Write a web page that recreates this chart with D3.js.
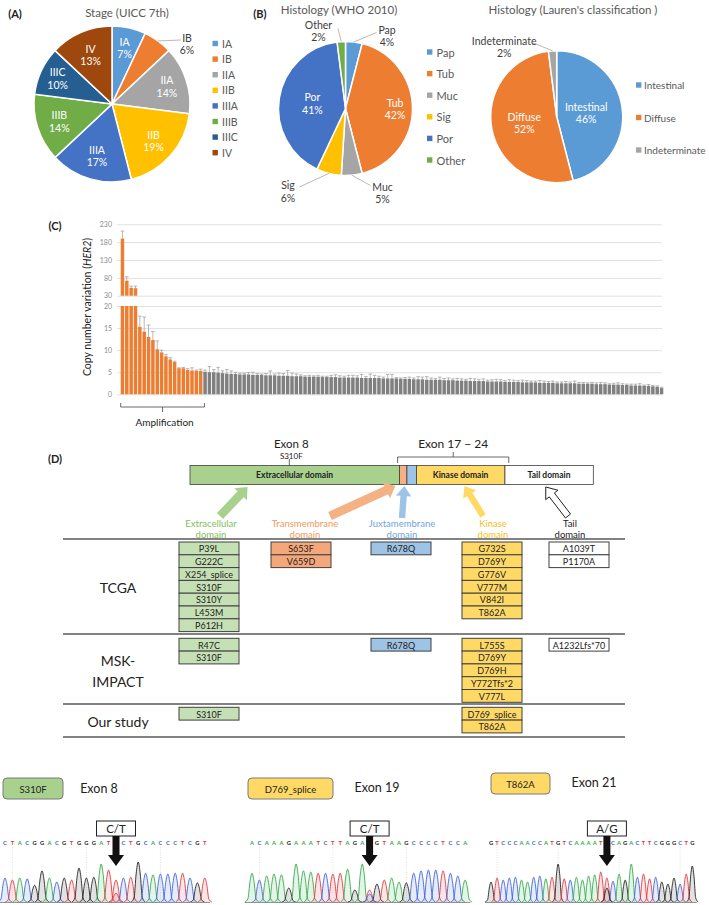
<!DOCTYPE html>
<html><head><meta charset="utf-8">
<script src="https://cdn.jsdelivr.net/npm/d3@7"></script>
<style>
body{margin:0;background:#fff}
svg{display:block}
text{font-family:Lato,"Open Sans","Noto Sans",sans-serif}
</style></head>
<body><svg id="c" width="709" height="905"></svg>
<script>
// ---------------- DATA ----------------
const stageLabels = ["IA","IB","IIA","IIB","IIIA","IIIB","IIIC","IV"];
const stageValues = [7,6,14,19,17,14,10,13];
const whoLabels = ["Pap","Tub","Muc","Sig","Por","Other"];
const whoValues = [4,42,5,6,41,2];
const laurenLabels = ["Intestinal","Diffuse","Indeterminate"];
const laurenValues = [46,52,2];

const cnvAmpValues = [190,72,52,51,15.3,14.2,13.0,12.3,10.2,9.5,8.6,7.9,7.3,5.9,5.9,5.5,5.4,5.3,5.3];
const cnvAmpErrors = [21,11,5,6,2.4,3.3,2.7,1.9,1.9,0.5,0.4,0.4,0.2,0.1,0.2,0.3,0.6,0.2,0.4];
const cnvOtherValues = [5.1,5.0,5.0,4.9,4.8,4.7,4.6,4.6,4.5,4.5,
  4.5,4.4,4.4,4.4,4.3,4.3,4.3,4.2,4.2,4.2,
  4.1,4.1,4.1,4.0,4.0,4.0,4.0,3.9,3.9,3.9,
  3.9,3.8,3.8,3.8,3.8,3.8,3.7,3.7,3.7,3.7,
  3.7,3.6,3.6,3.6,3.6,3.5,3.5,3.5,3.4,3.4,
  3.4,3.3,3.3,3.3,3.3,3.2,3.2,3.2,3.1,3.1,
  3.1,3.0,3.0,3.0,3.0,2.9,2.9,2.9,2.9,2.8,
  2.8,2.8,2.8,2.7,2.7,2.7,2.7,2.6,2.6,2.6,
  2.6,2.5,2.5,2.5,2.5,2.5,2.4,2.4,2.4,2.4,
  2.3,2.3,2.3,2.2,2.2,2.2,2.1,2.1,2.0,2.0,
  2.0,1.9,1.9,1.8,1.7,1.4];
const cnvOtherErrors = [0.4,1.3,0.6,1.2,0.5,0.9,0.7,0.4,0.3,0.3,
  0.4,0.6,0.3,0.2,0.4,1.0,0.3,0.6,0.5,1.2,
  0.7,0.5,0.3,0.2,0.3,0.2,0.3,0.2,0.2,0.4,
  0.5,0.4,0.3,0.5,0.5,0.4,0.8,0.3,0.9,0.6,
  0.4,0.3,0.9,0.9,0.2,0.2,0.3,0.4,0.3,0.6,
  0.5,0.7,0.4,0.3,0.6,0.4,0.5,0.3,0.5,0.4,
  0.3,0.6,0.5,0.4,0.5,0.3,0.4,0.5,0.4,0.3,
  0.5,0.4,0.3,0.5,0.4,0.3,0.3,0.5,0.4,0.3,
  0.4,0.3,0.3,0.4,0.3,0.5,0.3,0.3,0.2,0.3,
  0.3,0.4,0.3,0.2,0.3,0.4,0.3,0.2,0.3,0.3,
  0.4,0.2,0.3,0.2,0.2,0.2];
const cnvTopTicks = [30,80,130,180,230];
const cnvBottomTicks = [0,5,10,15,20];

const domainNames = ["Extracellular domain","","","Kinase domain","Tail domain"];
const domainArrowLabels = [["Extracellular","domain"],["Transmembrane","domain"],["Juxtamembrane","domain"],["Kinase","domain"],["Tail","domain"]];
const domainStart = [1,653,676,706,981];
const domainEnd = [652,675,705,980,1255];

const studyNames = ["TCGA","MSK-\nIMPACT","Our study"];
const tcgaMutations = [["P39L","G222C","X254_splice","S310F","S310Y","L453M","P612H"],["S653F","V659D"],["R678Q"],["G732S","D769Y","G776V","V777M","V842I","T862A"],["A1039T","P1170A"]];
const mskMutations = [["R47C","S310F"],[],["R678Q"],["L755S","D769Y","D769H","Y772Tfs*2","V777L"],["A1232Lfs*70"]];
const ourMutations = [["S310F"],[],[],["D769_splice","T862A"],[]];

const sangerMutations = ["S310F","D769_splice","T862A"];
const sangerExons = ["Exon 8","Exon 19","Exon 21"];
const sangerCalls = ["C/T","C/T","A/G"];
const seq1 = "CTACGGACGTGGGATTCTGCACCCTCGT";
const peaks1 = [0.6,0.55,0.6,0.58,0.42,0.78,0.6,0.5,0.6,0.55,0.85,0.6,0.62,0.95,0.8,0.55,0.6,0.62,1.0,0.72,0.68,0.7,0.7,0.72,0.72,0.6,0.48,0.6];
const seq2 = "ACAAAGAAATCTTAGATGTAAGCCCCTCCA";
const peaks2 = [0.72,0.55,0.65,0.7,0.68,0.35,0.95,0.78,0.75,0.72,0.72,0.7,0.72,0.82,0.3,0.95,0.3,0.45,0.55,0.6,0.5,0.48,0.72,0.78,0.8,0.8,0.78,0.72,0.65,0.55];
const seq3 = "GTCCCAACCATGTCAAAATTCAGACTTCGGGCTG";
const peaks3 = [0.5,0.6,0.55,0.6,0.62,0.55,0.5,0.62,0.65,0.58,0.62,0.95,0.58,0.55,0.62,0.55,0.65,0.68,0.75,0.6,0.52,0.7,0.55,0.95,0.62,0.7,0.58,0.62,0.5,0.45,0.6,0.45,0.7,0.9];

// ---------------- DRAW ----------------
const svg = d3.select("#c");
const TXT = "#595959";

function label(x,y,s,o={}){
  return svg.append("text").attr("x",x).attr("y",y).text(s)
    .attr("font-size",o.size||11).attr("fill",o.fill||"#222")
    .attr("text-anchor",o.anchor||"middle").attr("dominant-baseline","central")
    .attr("font-weight",o.weight||"normal")
    .attr("font-family",o.family||null);
}

// panel letters
label(15,13,"(A)",{weight:"bold",family:"Arial, Liberation Sans, sans-serif",size:11});
label(260,13,"(B)",{weight:"bold",family:"Arial, Liberation Sans, sans-serif",size:11});
label(55,225,"(C)",{weight:"bold",family:"Arial, Liberation Sans, sans-serif",size:11});
label(55,458,"(D)",{weight:"bold",family:"Arial, Liberation Sans, sans-serif",size:11});

// pies
function drawPie(cfg){
  label(cfg.tx,cfg.ty,cfg.title,{fill:TXT,size:11.5});
  const g = svg.append("g").attr("transform",`translate(${cfg.cx},${cfg.cy})`);
  const data = cfg.labels.map((l,i)=>({l,v:cfg.values[i],c:cfg.colors[i]}));
  const arcs = d3.pie().sort(null).value(d=>d.v)(data);
  const arc = d3.arc().innerRadius(0).outerRadius(cfg.r);
  g.selectAll("path").data(arcs).join("path").attr("d",arc)
    .attr("fill",d=>d.data.c).attr("stroke","#fff").attr("stroke-width",1.5);
  arcs.forEach((a,i)=>{
    const lp = cfg.lab[i];
    const mid=(a.startAngle+a.endAngle)/2;
    let x,y,col="#fff";
    if(lp.out){
      x=lp.out[0]; y=lp.out[1]; col="#404040";
      const ex=Math.sin(mid)*cfg.r, ey=-Math.cos(mid)*cfg.r;
      g.append("line").attr("x1",ex).attr("y1",ey).attr("x2",lp.lead[0]).attr("y2",lp.lead[1])
        .attr("stroke","#a6a6a6").attr("stroke-width",0.8);
    } else {
      x=Math.sin(mid)*lp.k*cfg.r; y=-Math.cos(mid)*lp.k*cfg.r;
    }
    const t=g.append("text").attr("text-anchor","middle").attr("font-size",cfg.fs).attr("fill",col);
    t.append("tspan").attr("x",x).attr("y",y-6).attr("dominant-baseline","central").text(a.data.l);
    t.append("tspan").attr("x",x).attr("y",y+6.5).attr("dominant-baseline","central").text(a.data.v+"%");
  });
  const lg = svg.append("g");
  cfg.labels.forEach((l,i)=>{
    const yy = cfg.ly0 + i*cfg.lstep;
    lg.append("rect").attr("x",cfg.lx).attr("y",yy-2.7).attr("width",5.4).attr("height",5.4).attr("fill",cfg.colors[i]);
    lg.append("text").attr("x",cfg.lx+cfg.lgap).attr("y",yy).attr("dominant-baseline","central")
      .attr("font-size",cfg.lfs).attr("fill",TXT).text(l);
  });
}
const office = ["#5B9BD5","#ED7D31","#A5A5A5","#FFC000","#4472C4","#70AD47","#255E91","#9E480E"];
drawPie({title:"Stage (UICC 7th)",tx:127,ty:12,cx:112,cy:104,r:78,labels:stageLabels,values:stageValues,colors:office,fs:10.5,
  lab:[{k:0.74},{out:[75,-60.5],lead:[69,-64]},{k:0.74},{k:0.71},{k:0.69},{k:0.71},{k:0.77},{k:0.69}],
  lx:212.5,ly0:43.5,lstep:15.6,lfs:10.5,lgap:9.5});
drawPie({title:"Histology (WHO 2010)",tx:339,ty:9,cx:345.5,cy:108.5,r:67,labels:whoLabels,values:whoValues,colors:office.slice(0,6),fs:10.5,
  lab:[{out:[41.5,-73],lead:[31,-76]},{k:0.74},{out:[37,84],lead:[25,77]},{out:[-57.5,82.5],lead:[-46,78.5]},{k:0.5},{out:[-27,-78],lead:[-7.5,-80]}],
  lx:427,ly0:52,lstep:21.6,lfs:11,lgap:9.5});
drawPie({title:"Histology (Lauren's classification )",tx:573,ty:9,cx:556.7,cy:116.7,r:66,labels:laurenLabels,values:laurenValues,colors:["#5B9BD5","#ED7D31","#A5A5A5"],fs:10.5,
  lab:[{k:0.45},{k:0.5},{out:[-52.5,-70],lead:[-24,-74]}],
  lx:636,ly0:85,lstep:32.5,lfs:10,lgap:8});

// ---------------- Panel C bar chart ----------------
const cnvValues = cnvAmpValues.concat(cnvOtherValues);
const cnvErrors = cnvAmpErrors.concat(cnvOtherErrors);
const nAmp = cnvAmpValues.length;
const xB = d3.scaleBand().domain(d3.range(cnvValues.length)).range([120.5,663.5]).paddingInner(0.2).paddingOuter(0.05);
const yBot = d3.scaleLinear().domain([0,20]).range([394.3,306]);
const yTop = d3.scaleLinear().domain([30,230]).range([295.7,224.3]);
const gridW = 662-117;
function styleAxis(g){
  g.select(".domain").remove();
  g.selectAll(".tick line").attr("stroke","#d9d9d9").attr("stroke-width",0.8);
  g.selectAll(".tick text").attr("fill","#8c8c8c").attr("font-size",7).attr("font-family","Lato, sans-serif");
}
svg.append("g").attr("transform","translate(117,0)")
  .call(d3.axisLeft(yBot).tickValues(cnvBottomTicks).tickSize(-gridW).tickPadding(5)).call(styleAxis);
svg.append("g").attr("transform","translate(117,0)")
  .call(d3.axisLeft(yTop).tickValues(cnvTopTicks).tickSize(-gridW).tickPadding(5)).call(styleAxis);

const bars = svg.append("g");
cnvValues.forEach((v,i)=>{
  const col = i<nAmp ? "#ED7D31" : "#808080";
  const x = xB(i), w = xB.bandwidth();
  const vb = Math.min(v,20);
  bars.append("rect").attr("x",x).attr("y",yBot(vb)).attr("width",w).attr("height",yBot(0)-yBot(vb)).attr("fill",col);
  const e = cnvErrors[i];
  const cx = x+w/2;
  let y1,y2;
  if(v>20){
    bars.append("rect").attr("x",x).attr("y",yTop(v)).attr("width",w).attr("height",yTop(30)-yTop(v)).attr("fill",col);
    y1=yTop(v); y2=yTop(v+e);
  } else { y1=yBot(v); y2=yBot(Math.min(v+e,20)); }
  bars.append("line").attr("x1",cx).attr("x2",cx).attr("y1",y1).attr("y2",y2).attr("stroke","#9a9a9a").attr("stroke-width",0.7);
  bars.append("line").attr("x1",cx-1.8).attr("x2",cx+1.8).attr("y1",y2).attr("y2",y2).attr("stroke","#9a9a9a").attr("stroke-width",0.7);
});
// y label
const yl = svg.append("text").attr("transform","translate(87,307) rotate(-90)").attr("text-anchor","middle")
  .attr("dominant-baseline","central").attr("font-size",10.5).attr("fill","#222");
yl.append("tspan").text("Copy number variation (");
yl.append("tspan").attr("font-style","italic").text("HER2");
yl.append("tspan").text(")");
// amplification bracket
const bx0 = xB(0), bx1 = xB(nAmp-1)+xB.bandwidth()+2;
svg.append("path").attr("d",`M${bx0},403 V407 H${bx1} V403 M${(bx0+bx1)/2},407 V412`)
  .attr("fill","none").attr("stroke","#595959").attr("stroke-width",0.9);
label((bx0+bx1)/2+2,422,"Amplification",{size:10});

// ---------------- Panel D domain diagram ----------------
const aa = d3.scaleLinear().domain([1,1255]).range([190,593]);
const domFill = ["#a9d18e","#f4b183","#9dc3e6","#ffd966","#ffffff"];
const domText = ["#7fbe5c","#f29a5e","#6fa6dc","#f2bf2a","#222"];
domainStart.forEach((s,i)=>{
  svg.append("rect").attr("x",aa(s)).attr("y",465.5).attr("width",aa(domainEnd[i]+1)-aa(s)).attr("height",19)
    .attr("fill",domFill[i]).attr("stroke","#404040").attr("stroke-width",0.8);
  if(domainNames[i]) label((aa(s)+aa(domainEnd[i]))/2,475,domainNames[i],{size:8.5,weight:"bold"});
});
label(aa(310)+2,443,"Exon 8",{size:11.5});
label(aa(310)+2,456,"S310F",{size:8});
svg.append("line").attr("x1",aa(310)).attr("x2",aa(310)).attr("y1",459).attr("y2",465.5).attr("stroke","#404040").attr("stroke-width",0.8);
const e0 = aa(647), e1 = aa(993);
label((e0+e1)/2,443,"Exon 17 − 24",{size:12});
svg.append("path").attr("d",`M${e0},463 V457 H${e1} V463 M${(e0+e1)/2},457 V452`).attr("fill","none").attr("stroke","#595959").attr("stroke-width",0.9);

// column centers for the table
const colX = [209,301,401,492,579];
const colW = 60;
// fat arrows
function fatArrow(tx,ty,px,py,w,hw,hl,fill,stroke){
  const dx=px-tx, dy=py-ty, L=Math.hypot(dx,dy), ux=dx/L, uy=dy/L, nx=-uy, ny=ux;
  const bxp=px-ux*hl, byp=py-uy*hl;
  const pts=[[tx+nx*w,ty+ny*w],[bxp+nx*w,byp+ny*w],[bxp+nx*hw,byp+ny*hw],[px,py],[bxp-nx*hw,byp-ny*hw],[bxp-nx*w,byp-ny*w],[tx-nx*w,ty-ny*w]];
  svg.append("path").attr("d",d3.line()(pts)+"Z").attr("fill",fill).attr("stroke",stroke||"none").attr("stroke-width",1);
}
const arrowTips = [[aa(180),487],[aa(640),486],[aa(668),486],[aa(855),486],[aa(1108),487]];
const arrowTails = [[220,516],[330,516],[402,518],[483,516],[568,516]];
const arrowW = [4.2,4.4,3.2,3.2,3.2];
domFill.forEach((f,i)=>{
  fatArrow(arrowTails[i][0],arrowTails[i][1],arrowTips[i][0],arrowTips[i][1],arrowW[i],arrowW[i]+4.5,10,f,i===4?"#222":null);
});
const labX = [211,305,402,493,570];
domainArrowLabels.forEach((ls,i)=>{
  label(labX[i],523.5,ls[0],{size:9.5,fill:domText[i]});
  label(labX[i],534,ls[1],{size:9.5,fill:domText[i]});
});

// table
const lineYs = [539,634,704,737];
lineYs.forEach(y=>svg.append("line").attr("x1",63).attr("x2",625).attr("y1",y).attr("y2",y).attr("stroke","#595959").attr("stroke-width",1.3));
const boxFill = ["#c5e0b4","#f4a77a","#9dc3e6","#ffd966","#ffffff"];
const rowStart = [542,638.3,707.3];
const rowH = 12.8;
[tcgaMutations,mskMutations,ourMutations].forEach((rows,r)=>{
  rows.forEach((muts,c)=>{
    muts.forEach((m,k)=>{
      const y = rowStart[r]+k*rowH;
      svg.append("rect").attr("x",colX[c]-colW/2).attr("y",y).attr("width",colW).attr("height",rowH)
        .attr("fill",boxFill[c]).attr("stroke","#404040").attr("stroke-width",1);
      label(colX[c],y+rowH/2+0.3,m,{size:9,fill:"#222"});
    });
  });
});
label(118,587,"TCGA",{size:14});
label(118,660,"MSK-",{size:14});
label(118,681,"IMPACT",{size:14});
label(118,721,"Our study",{size:14});

// ---------------- Sanger chromatograms ----------------
const baseColor = {A:"#35a94a",C:"#3d63d6",G:"#222222",T:"#e0393e"};
const tagFill = ["#a9d18e","#ffd966","#ffd966"];
const tagBox = [[3,778,60,21],[248,778,85,21],[491,773,59,21]];
const exonPos = [[99,788],[377,787],[594,782]];
const traces = [
  {seq:seq1,pk:peaks1,x0:5,p:7.4,idx:15,minor:"T",mh:0.22},
  {seq:seq2,pk:peaks2,x0:252,p:7.35,idx:16,minor:"C",mh:0.2},
  {seq:seq3,pk:peaks3,x0:491,p:6.1,idx:19,minor:"G",mh:0.35}
];
const base = 902, maxH = 40, letY = 842;
traces.forEach((t,j)=>{
  const b = tagBox[j];
  svg.append("rect").attr("x",b[0]).attr("y",b[1]).attr("width",b[2]).attr("height",b[3]).attr("rx",4)
    .attr("fill",tagFill[j]).attr("stroke","#7a7a7a").attr("stroke-width",1);
  label(b[0]+b[2]/2,b[1]+b[3]/2+0.5,sangerMutations[j],{size:9.5,fill:"#222"});
  label(exonPos[j][0],exonPos[j][1],sangerExons[j],{size:12.5,fill:"#222"});
  const g = svg.append("g");
  t.seq.split("").forEach((ch,i)=>{
    if(i%10===1){
      const x=t.x0+i*t.p;
      g.append("line").attr("x1",x).attr("x2",x).attr("y1",letY+5).attr("y2",base).attr("stroke","#c8c8c8").attr("stroke-width",0.6).attr("stroke-dasharray","1,1.5");
    }
  });
  const ln = d3.line().curve(d3.curveMonotoneX);
  const drawPeak=(xc,h,col)=>{
    const H=h*maxH, p=t.p;
    const pts=[[xc-0.95*p,base],[xc-0.55*p,base-0.12*H],[xc-0.28*p,base-0.7*H],[xc,base-H],[xc+0.28*p,base-0.7*H],[xc+0.55*p,base-0.12*H],[xc+0.95*p,base]];
    g.append("path").attr("d",ln(pts)).attr("fill",col).attr("fill-opacity",0.13).attr("stroke",col).attr("stroke-width",0.9);
  };
  t.seq.split("").forEach((ch,i)=>{
    const xc=t.x0+i*t.p;
    drawPeak(xc,t.pk[i],baseColor[ch]);
    g.append("text").attr("x",xc).attr("y",letY).attr("text-anchor","middle").attr("dominant-baseline","central")
      .attr("font-size",5.8).attr("font-weight","bold").attr("fill",baseColor[ch]).text(ch);
  });
  drawPeak(t.x0+t.idx*t.p,t.mh,baseColor[t.minor]);
  g.append("line").attr("x1",t.x0-t.p).attr("x2",t.x0+(t.seq.length-0.3)*t.p).attr("y1",base+0.5).attr("y2",base+0.5).attr("stroke","#777").attr("stroke-width",0.8);
  const ax = t.x0+t.idx*t.p;
  svg.append("rect").attr("x",ax-19.5).attr("y",821).attr("width",39).attr("height",15).attr("fill","#fff").attr("stroke","#222").attr("stroke-width",1);
  label(ax,828.8,sangerCalls[j],{size:11.5});
  svg.append("path").attr("d",d3.line()([[ax-3.5,836],[ax-3.5,855],[ax-8,855],[ax,866],[ax+8,855],[ax+3.5,855],[ax+3.5,836]])+"Z").attr("fill","#111");
});
</script></body></html>
